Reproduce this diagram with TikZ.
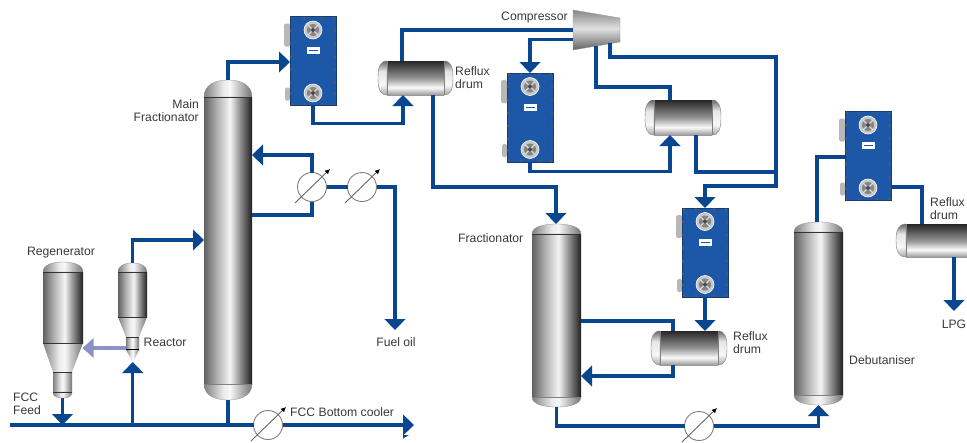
\documentclass[tikz,border=0pt]{standalone}
\usepackage{fontspec}
\setmainfont{Liberation Sans}
\usetikzlibrary{arrows.meta,calc}
\definecolor{pipeblue}{HTML}{08468F}
\definecolor{hxblue}{HTML}{1D57A8}
\definecolor{lightpipe}{HTML}{8C92C6}
\definecolor{labelgray}{HTML}{3A3A3A}
\pgfdeclarehorizontalshading{vbody}{100bp}{color(0bp)=(black!62); color(25bp)=(black!62); color(38bp)=(black!32); color(52bp)=(black!4); color(62bp)=(black!42); color(75bp)=(black!88); color(100bp)=(black!88)}
\pgfdeclarehorizontalshading{vcap}{100bp}{color(0bp)=(black!50); color(25bp)=(black!50); color(45bp)=(black!8); color(52bp)=(black!3); color(75bp)=(black!55); color(100bp)=(black!55)}
\pgfdeclareverticalshading{hbody}{100bp}{color(0bp)=(black!40); color(25bp)=(black!40); color(36bp)=(black!2); color(50bp)=(black!42); color(75bp)=(black!85); color(100bp)=(black!85)}
\pgfdeclareverticalshading{hcap}{100bp}{color(0bp)=(black!35); color(25bp)=(black!35); color(40bp)=(black!3); color(60bp)=(black!10); color(75bp)=(black!60); color(100bp)=(black!60)}
\pgfdeclareverticalshading{compshade}{100bp}{color(0bp)=(black!62); color(25bp)=(black!62); color(52bp)=(black!12); color(75bp)=(black!48); color(100bp)=(black!48)}
\tikzset{
  x=1pt,y=-1pt,
  pipe/.style={draw=pipeblue,line width=3.2pt},
  pipearrow/.style={pipe,-{Triangle[width=20.5pt,length=11pt]}},
  lightarrow/.style={draw=lightpipe,line width=4pt,-{Triangle[width=19pt,length=11pt]}},
  port/.style={rectangle,inner sep=0pt,outer sep=0pt},
  lbl/.style={font=\fontsize{12.2}{13}\selectfont,text=labelgray,inner sep=0pt,align=left},
  hxplate/.style={port,fill=hxblue,draw=hxblue!70!black,line width=.5pt,minimum width=46pt,minimum height=89pt},
  coolerring/.style={circle,draw=black!50,fill=white,line width=.9pt,minimum size=29pt,inner sep=0pt,outer sep=0pt},
  coolerarrow/.style={draw=black!60,line width=.9pt,-{Latex[black,width=5pt,length=5pt]}},
  tanline/.style={draw=black!80,line width=.7pt},
  capline/.style={draw=black!50,line width=.4pt},
}
% name, x1, x2, top, top tangent, bottom tangent, bottom
\newcommand{\vvessel}[7]{%
  \path[shading=vcap,draw=black!45,line width=.3pt] (#2,#5) .. controls (#2,{#5-.75*(#5-#4)}) and ({#2+.25*(#3-#2)},#4) .. ({(#2+#3)/2},#4) .. controls ({#3-.25*(#3-#2)},#4) and (#3,{#5-.75*(#5-#4)}) .. (#3,#5) -- cycle;
  \path[shading=vcap,draw=black!45,line width=.3pt] (#2,#6) .. controls (#2,{#6+.75*(#7-#6)}) and ({#2+.25*(#3-#2)},#7) .. ({(#2+#3)/2},#7) .. controls ({#3-.25*(#3-#2)},#7) and (#3,{#6+.75*(#7-#6)}) .. (#3,#6) -- cycle;
  \path[shading=vbody] (#2,#5) rectangle (#3,#6);
  \draw[tanline] (#2,#5) -- (#3,#5);
  \draw[capline] (#2,#6) -- (#3,#6);
  \node[port,minimum width={(#3-#2)*1pt},minimum height={(#7-#4)*1pt}] (#1) at ({(#2+#3)/2},{(#4+#7)/2}) {};
}
% name, x1, x2, left tangent, right tangent, top, bottom
\newcommand{\hvessel}[7]{%
  \path[shading=hcap,draw=black!50,line width=.4pt] (#4,#6) .. controls ({#2+.2*(#4-#2)},#6) and (#2,{#6+.2*(#7-#6)}) .. (#2,{(#6+#7)/2}) .. controls (#2,{#7-.2*(#7-#6)}) and ({#2+.2*(#4-#2)},#7) .. (#4,#7) -- cycle;
  \path[shading=hcap,draw=black!50,line width=.4pt] (#5,#6) .. controls ({#3-.2*(#3-#5)},#6) and (#3,{#6+.2*(#7-#6)}) .. (#3,{(#6+#7)/2}) .. controls (#3,{#7-.2*(#7-#6)}) and ({#3-.2*(#3-#5)},#7) .. (#5,#7) -- cycle;
  \path[shading=hbody] (#4,#6) rectangle (#5,#7);
  \draw[capline] (#4,#6) -- (#4,#7) (#5,#6) -- (#5,#7);
  \node[port,minimum width={(#3-#2)*1pt},minimum height={(#7-#6)*1pt}] (#1) at ({(#2+#3)/2},{(#6+#7)/2}) {};
}
\newcommand{\hxport}[2]{%
  \fill[black!22,draw=white,line width=.6pt] (#1,#2) circle (9pt);
  \fill[black!48] (#1,#2) circle (6pt);
  \draw[black!15,line width=1.1pt] ({#1-5},{#2-5}) -- ({#1+5},{#2+5}) ({#1-5},{#2+5}) -- ({#1+5},{#2-5});
  \fill[black!70] (#1,#2) circle (2pt);
}
% name, left x, top y
\newcommand{\hxunit}[3]{%
  \begin{scope}[shift={(#2,#3)}]
    \fill[black!28,rounded corners=1.5pt] (-6,7) rectangle (0,30);
    \fill[black!28,rounded corners=1.5pt] (-5,71) rectangle (0,84);
    \node[hxplate] (#1) at (23,44.5) {};
    \foreach \bx in {2,14,32,44}{\fill[black!65] (\bx,1.5) circle (1.3pt); \fill[black!65] (\bx,87.5) circle (1.3pt);}
    \foreach \by in {14,27,40,53,66,77}{\fill[black!65] (1,\by) circle (1.3pt); \fill[black!65] (45,\by) circle (1.3pt);}
    \hxport{23}{13.5}
    \hxport{23}{76.5}
    \fill[white] (16.5,30.5) rectangle (29.5,37.5);
    \draw[hxblue,line width=.8pt] (18.5,34) -- (27.5,34);
  \end{scope}
}
% name, x, y
\newcommand{\cooler}[3]{%
  \node[coolerring] (#1) at (#2,#3) {};
  \draw[coolerarrow] ({#2-17},{#3+16}) -- ({#2+18},{#3-18});
}
\begin{document}
\begin{tikzpicture}
\useasboundingbox (0,0) rectangle (967,442);
\clip (0,0) rectangle (967,442);
\fill[white] (0,0) rectangle (967,442);

% ---------- vessels
\vvessel{MF}{204}{252}{80}{97}{384}{400}
\vvessel{FR}{532}{581}{224}{234}{397}{407}
\vvessel{DB}{794}{843}{222}{232}{395}{405}
\hvessel{DA}{378}{453}{387}{444}{61}{95}
\hvessel{DB2}{645}{721}{654}{712}{100}{135}
\hvessel{DC}{651}{727}{660}{718}{331}{365}
\hvessel{DD}{896}{1000}{906}{990}{224}{257}

% Regenerator
\path[shading=vcap,draw=black!45,line width=.3pt] (43,272) .. controls (43,265) and (52,262) .. (63,262) .. controls (74,262) and (83,265) .. (83,272) -- cycle;
\path[shading=vbody] (43,272) rectangle (83,343);
\path[shading=vcap] (43,343) -- (83,343) -- (72,372) -- (53,372) -- cycle;
\path[shading=vcap] (53,372) rectangle (72,392);
\path[shading=vcap,draw=black!45,line width=.3pt] (53,392) .. controls (53,396) and (56,398) .. (62.5,398) .. controls (69,398) and (72,396) .. (72,392) -- cycle;
\draw[tanline] (43,272) -- (83,272);
\draw[tanline] (43,343) -- (83,343);
\draw[tanline] (53,372) -- (72,372);
\draw[tanline] (53,392) -- (72,392);
\node[port,minimum width=40pt,minimum height=136pt] (RG) at (62.5,330) {};

% Reactor
\path[shading=vcap,draw=black!45,line width=.3pt] (118,272) .. controls (118,266) and (124,263) .. (132.5,263) .. controls (141,263) and (147,266) .. (147,272) -- cycle;
\path[shading=vbody] (118,272) rectangle (147,317);
\path[shading=vcap] (118,317) -- (147,317) -- (139,337) -- (126,337) -- cycle;
\path[shading=vcap] (126,337) rectangle (139,350);
\path[shading=vcap] (126,350) -- (139,350) -- (133,362) -- cycle;
\draw[tanline] (118,272) -- (147,272);
\draw[tanline] (118,317) -- (147,317);
\draw[tanline] (126,337) -- (139,337);
\draw[draw=black,line width=1.2pt] (126,349.5) -- (139,349.5);
\node[port,minimum width=29pt,minimum height=99pt] (RX) at (132.8,312.5) {};

% Compressor
\path[shading=compshade,draw=black!40,line width=.3pt] (573,10) -- (620,18) -- (620,42) -- (573,50) -- cycle;
\node[port,minimum width=47pt,minimum height=40pt] (CP) at (596.5,30) {};

% Plate heat exchangers
\hxunit{HA}{290}{16.5}
\hxunit{HB}{507}{73}
\hxunit{HC}{682}{208}
\hxunit{HD}{845}{111.5}

% Coolers
\cooler{CA}{312}{187}
\cooler{CB}{362}{187}
\cooler{CF}{268}{425}
\cooler{CG}{699}{426}

% ---------- free ends
\coordinate (feedL) at (10,425);
\coordinate (fcctip) at (414,425);
\coordinate (fueltip) at (395,330);
\coordinate (lpgtip) at (954,311);

% ---------- connectors
\draw[pipe] (feedL) -- (CF.west);
\draw[pipearrow] (CF.east) -- (fcctip);
\draw[pipearrow] (RG.south) -- (RG.south |- feedL);
\draw[pipearrow] (RX.south |- feedL) -- (RX.south);
\draw[pipearrow] (RX.north) |- (MF.west |- 0,240);
\draw[lightarrow] (RX.west |- 126,348) ++(8,0) -- (RG.east |- 0,348);
\draw[pipe] (MF.south) -- (MF.south |- feedL);
\draw[pipearrow] (MF.north) |- (HA.west |- 0,62);
\draw[pipe] (MF.east |- 0,215) -| (CA.south);
\draw[pipearrow] (CA.north) |- (MF.east |- 0,155);
\draw[pipe] (CA.east) -- (CB.west);
\draw[pipearrow] (CB.east) -| (fueltip);
\draw[pipearrow] (HA.south) |- (403,123.5) -- (403,95);
\draw[pipe] (402,61) |- (CP.west);
\draw[pipearrow] (CP.west |- 0,39.5) -| (HB.north);
\draw[pipe] (596,46) |- (670,87) -- (DB2.north -| 670,0);
\draw[pipearrow] (HB.south) |- (670,171.5) -- (DB2.south -| 670,0);
\draw[pipe] (696,135) |- (776,172);
\draw[pipearrow] (610,43) |- (776,57) |- (705,186) -- (HC.north);
\draw[pipearrow] (433,95) |- (556,187) -- (FR.north -| 556,0);
\draw[pipearrow] (HC.south) -- (HC.south |- DC.north);
\draw[pipe] (FR.east |- 0,321) -| (DC.north -| 673,0);
\draw[pipearrow] (DC.south -| 673,0) |- (FR.east |- 0,376);
\draw[pipe] (FR.south) |- (CG.west);
\draw[pipearrow] (CG.east) -| (DB.south);
\draw[pipe] (DB.north -| 817,0) |- (HD.west |- 0,157);
\draw[pipe] (HD.east |- 0,187) -| (DD.north -| 922,0);
\draw[pipearrow] (DD.south -| 954,0) -- (lpgtip);
\fill[pipeblue] (403,435) -- (409,435) -- (403,438.5) -- cycle;

% ---------- labels
\node[lbl,anchor=west] (tCP) at (501,18) {Compressor};
\node[lbl,anchor=west] (tDA) at (455,78) {Reflux\\drum};
\node[lbl,anchor=east,align=right] (tMF) at (199,110.5) {Main\\Fractionator};
\node[lbl] (tRG) at (61,253) {Regenerator};
\node[lbl,anchor=west] (tRX) at (143.5,342) {Reactor};
\node[lbl,anchor=west] (tFD) at (13,404) {FCC\\Feed};
\node[lbl] (tFO) at (396,342) {Fuel oil};
\node[lbl,anchor=west] (tFC) at (290,412) {FCC Bottom cooler};
\node[lbl,anchor=west] (tFR) at (458,238) {Fractionator};
\node[lbl,anchor=west] (tDC) at (733,343) {Reflux\\drum};
\node[lbl,anchor=west] (tDB) at (849,360) {Debutaniser};
\node[lbl,anchor=west] (tDD) at (930,209) {Reflux\\drum};
\node[lbl] (tLP) at (954,324) {LPG};
\end{tikzpicture}
\end{document}
